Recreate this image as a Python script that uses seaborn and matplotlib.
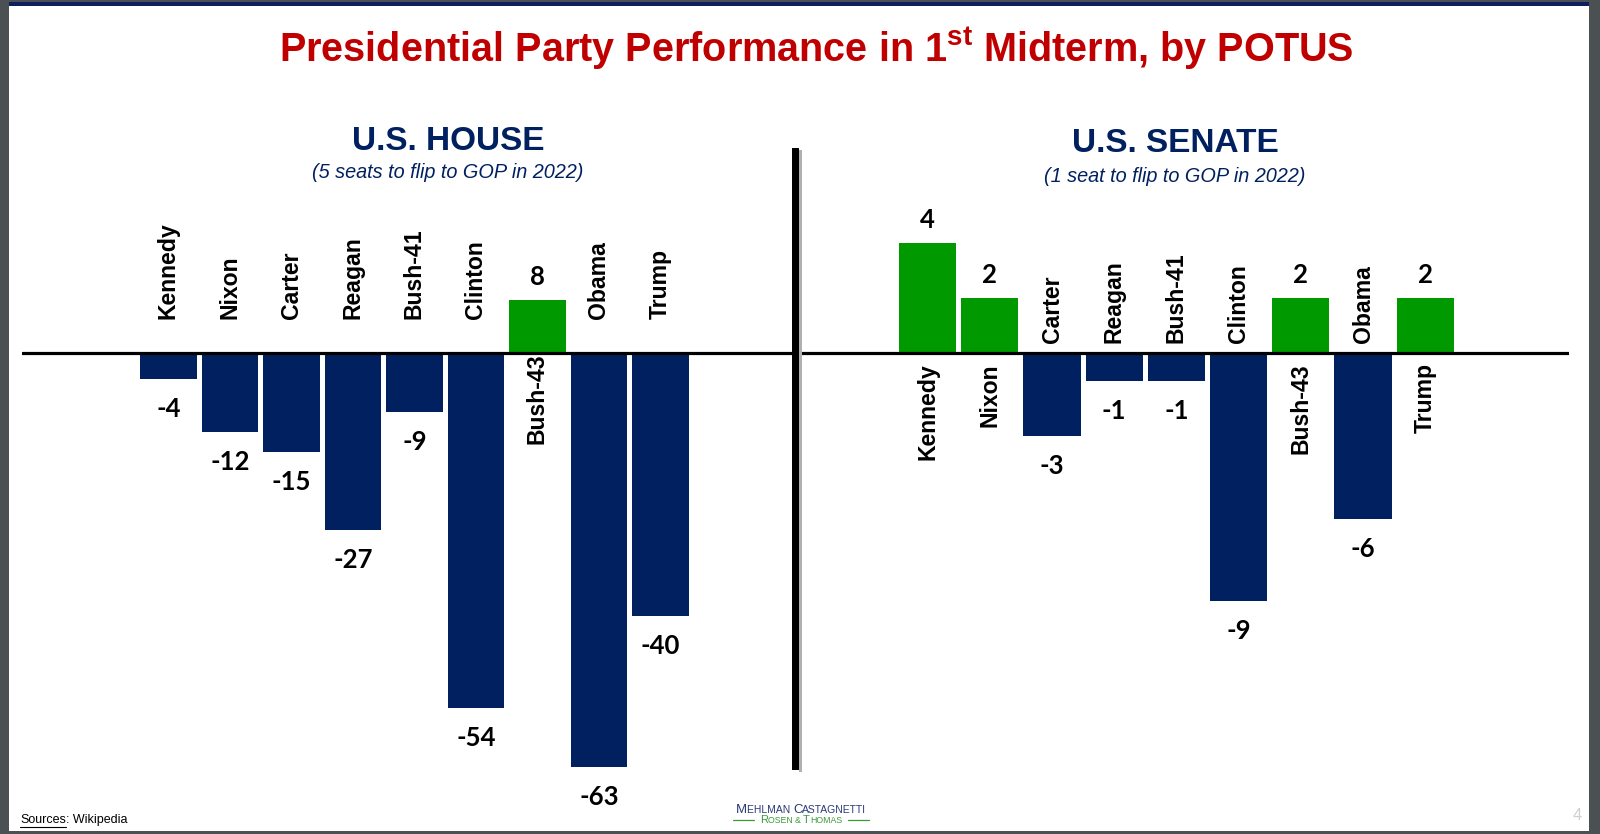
import numpy as np
import pandas as pd
import seaborn as sns
import matplotlib.pyplot as plt
from matplotlib.patches import Rectangle
from matplotlib.lines import Line2D

# Data
house_names = ['Kennedy', 'Nixon', 'Carter', 'Reagan', 'Bush-41', 'Clinton', 'Bush-43', 'Obama', 'Trump']
house_seats = [-4, -12, -15, -27, -9, -54, 8, -63, -40]
senate_names = ['Kennedy', 'Nixon', 'Carter', 'Reagan', 'Bush-41', 'Clinton', 'Bush-43', 'Obama', 'Trump']
senate_seats = [4, 2, -3, -1, -1, -9, 2, -6, 2]

title_text = 'Presidential Party Performance in 1$^{\\mathbf{st}}$ Midterm, by POTUS'
house_title = 'U.S. HOUSE'
house_sub = '(5 seats to flip to GOP in 2022)'
senate_title = 'U.S. SENATE'
senate_sub = '(1 seat to flip to GOP in 2022)'

NAVY = '#002060'
GREEN = '#009a00'
RED = '#c00000'

sns.set_theme(style='white')
plt.rcParams['font.family'] = ['Liberation Sans', 'DejaVu Sans']
plt.rcParams['mathtext.fontset'] = 'custom'
plt.rcParams['mathtext.rm'] = 'Liberation Sans'
plt.rcParams['mathtext.bf'] = 'Liberation Sans:bold'

W, H = 1600, 834
fig = plt.figure(figsize=(16, 8.34), dpi=100)
fig.patch.set_facecolor('white')
r = fig.canvas.get_renderer()


def fx(px):
    return px / W


def fy(py):
    return 1 - py / H


def panel(names, vals, left_px, right_px, center0, step, px_per_unit, name_up, name_down):
    zero_px = 353
    top_px, bot_px = 100, 820
    ax = fig.add_axes([fx(left_px), fy(bot_px), fx(right_px - left_px), (bot_px - top_px) / H])
    df = pd.DataFrame({'name': names, 'val': vals})
    colors = {n: (GREEN if v > 0 else NAVY) for n, v in zip(names, vals)}
    sns.barplot(data=df, x='name', y='val', hue='name', palette=colors, legend=False,
                width=0.92, saturation=1, ax=ax, edgecolor='none')
    ax.set_xlim((left_px - center0) / step, (right_px - center0) / step)
    ax.set_ylim(-(bot_px - zero_px) / px_per_unit, (zero_px - top_px) / px_per_unit)
    ax.axis('off')
    ax.axhline(0, color='black', lw=2.3, zorder=5)
    for i, (n, v) in enumerate(zip(names, vals)):
        if v < 0:
            ax.annotate(str(v), (i, v), xytext=(0, -30), textcoords='offset pixels',
                        ha='center', va='center', fontsize=18.5, fontweight='bold',
                        family=['Lato', 'DejaVu Sans'], color='black')
            ax.annotate(n, (i, 0), xytext=(0, name_up), textcoords='offset pixels',
                        ha='center', va='bottom', rotation=90, fontsize=16.6,
                        fontweight='bold', color='black')
        else:
            ax.annotate(str(v), (i, v), xytext=(0, 23), textcoords='offset pixels',
                        ha='center', va='center', fontsize=18.5, fontweight='bold',
                        family=['Lato', 'DejaVu Sans'], color='black')
            ax.annotate(n, (i, 0), xytext=(0, -name_down), textcoords='offset pixels',
                        ha='center', va='top', rotation=90, fontsize=16.6,
                        fontweight='bold', color='black', zorder=6)
    return ax


panel(house_names, house_seats, 22, 796, 168.4, 61.5, 6.57, 34, 0)
panel(senate_names, senate_seats, 796, 1569, 927.6, 62.2, 27.6, 10, 10)

# divider with a soft shadow
fig.add_artist(Rectangle((fx(799), fy(772)), fx(3), (772 - 150) / H, transform=fig.transFigure,
                         facecolor='#b0b0b0', edgecolor='none'))
fig.add_artist(Rectangle((fx(792), fy(770)), fx(7), (770 - 148) / H, transform=fig.transFigure,
                         facecolor='black', edgecolor='none'))

# titles
fig.text(fx(816), fy(49), title_text, ha='center', va='center', fontsize=28.5,
         fontweight='bold', color=RED)
fig.text(fx(448), fy(141), house_title, ha='center', va='center', fontsize=24,
         fontweight='bold', color=NAVY)
fig.text(fx(448), fy(172), house_sub, ha='center', va='center', fontsize=14.3,
         style='italic', color=NAVY)
fig.text(fx(1175), fy(144), senate_title, ha='center', va='center', fontsize=24,
         fontweight='bold', color=NAVY)
fig.text(fx(1175), fy(176), senate_sub, ha='center', va='center', fontsize=14.3,
         style='italic', color=NAVY)

# footer
src = fig.text(fx(20), fy(820), 'Sources', ha='left', va='center', fontsize=9, color='black')
bb = src.get_window_extent(r)
fig.text(bb.x1 / W, fy(820), ': Wikipedia', ha='left', va='center', fontsize=9, color='black')
fig.add_artist(Line2D([bb.x0 / W, bb.x1 / W], [(bb.y0 - 1) / H] * 2, transform=fig.transFigure,
                      color='black', lw=0.8))


def small_caps(parts, cx, cy, color):
    # parts: list of (text, size); drawn left to right then centred on cx
    arts = []
    x = 0
    for txt, size in parts:
        t = fig.text(x / W, fy(cy), txt, ha='left', va='baseline', fontsize=size, color=color)
        w = t.get_window_extent(r).width
        arts.append((t, x))
        x += w
    shift = cx - x / 2
    for t, x0 in arts:
        t.set_x((x0 + shift) / W)
    return shift, shift + x


small_caps([('M', 9.5), ('EHLMAN ', 7.5), ('C', 9.5), ('ASTAGNETTI', 7.5)], 801, 813, '#2b3a7a')
x0, x1 = small_caps([('R', 8), ('OSEN & ', 6.3), ('T', 8), ('HOMAS', 6.3)], 801, 823, '#3a9a3a')
for a, b in [(x0 - 27, x0 - 6), (x1 + 6, x1 + 27)]:
    fig.add_artist(Line2D([fx(a), fx(b)], [fy(819.5)] * 2, transform=fig.transFigure,
                          color='#3a9a3a', lw=0.9))
fig.text(fx(1577), fy(816), '4', ha='center', va='center', fontsize=12, color='#d0d0d0')

# slide frame
fig.add_artist(Rectangle((0, 0), fx(9), 1, transform=fig.transFigure, facecolor='#4b5052', edgecolor='none'))
fig.add_artist(Rectangle((fx(1589), 0), fx(11), 1, transform=fig.transFigure, facecolor='#4b5052', edgecolor='none'))
fig.add_artist(Rectangle((0, 0), 1, 3 / H, transform=fig.transFigure, facecolor='#4b5052', edgecolor='none'))
fig.add_artist(Rectangle((0, fy(2)), 1, 2 / H, transform=fig.transFigure, facecolor='#4b5052', edgecolor='none'))
fig.add_artist(Rectangle((fx(9), fy(6)), fx(1580), 4 / H, transform=fig.transFigure, facecolor='#0d1f5c', edgecolor='none'))

fig.savefig('out.png', dpi=100)
